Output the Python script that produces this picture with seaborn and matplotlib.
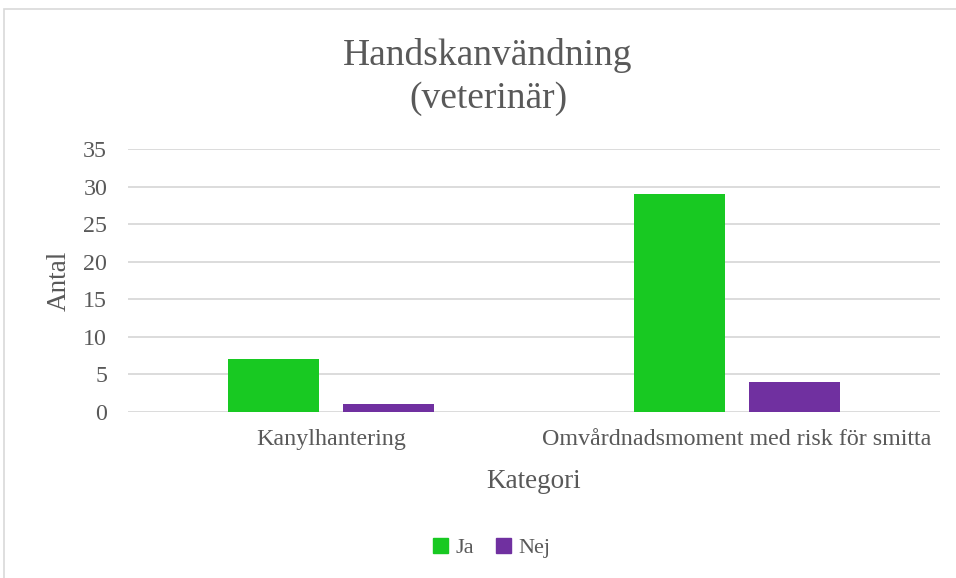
import pandas as pd
import seaborn as sns
import matplotlib.pyplot as plt
from matplotlib.patches import Rectangle

categories = ["Kanylhantering", "Omvårdnadsmoment med risk för smitta"]
ja = [7, 29]
nej = [1, 4]
series = ["Ja", "Nej"]
colors = ["#18C922", "#7030A0"]

df = pd.DataFrame({
    "Kategori": categories * 2,
    "Antal": ja + nej,
    "Svar": ["Ja"] * len(categories) + ["Nej"] * len(categories),
})

sns.set_theme(style="white")
plt.rcParams["font.family"] = ["Liberation Serif", "DejaVu Serif"]
text_color = "#595959"
grid_color = "#D9D9D9"

fig = plt.figure(figsize=(9.56, 5.78), dpi=100)
ax = fig.add_axes([128 / 956, 1 - 412 / 578, 812 / 956, 263 / 578])

sns.barplot(
    data=df, x="Kategori", y="Antal", hue="Svar",
    palette=colors, saturation=1, width=0.57, gap=0.214, ax=ax,
    legend=False, edgecolor="none",
)

ax.set_ylim(0, 35)
ax.set_yticks(range(0, 36, 5))
ax.set_xlim(-0.5, 1.5)
ax.yaxis.grid(True, color=grid_color, linewidth=1.3)
ax.set_axisbelow(True)
for s in ["top", "right", "left", "bottom"]:
    ax.spines[s].set_visible(False)
ax.tick_params(axis="both", length=0, labelsize=17.3, colors=text_color)
ax.tick_params(axis="y", pad=15)
ax.tick_params(axis="x", pad=12)
ax.set_xlabel("Kategori", fontsize=19.5, color=text_color, labelpad=14)
ax.set_ylabel("Antal", fontsize=19.5, color=text_color, labelpad=8)

fig.text(488 / 956, 1 - 77 / 578, "Handskanvändning\n(veterinär)",
         ha="center", va="center", fontsize=27, color=text_color,
         linespacing=1.3)

# legend
handles = [plt.Rectangle((0, 0), 1, 1, color=c) for c in colors]
fig.legend(handles, series, loc="center", bbox_to_anchor=(492 / 956, 1 - 548 / 578),
           ncol=2, frameon=False, handlelength=0.65, handleheight=0.65,
           handletextpad=0.35, columnspacing=1.0, labelcolor=text_color,
           prop={"family": ["Liberation Serif"], "size": 16})

# outer chart border
fig.patches.append(Rectangle((4 / 956, -0.1), 1.1, 1 - 9 / 578 + 0.1,
                             transform=fig.transFigure, fill=False,
                             edgecolor="#D9D9D9", linewidth=1.2))

fig.savefig("out.png", dpi=100)
